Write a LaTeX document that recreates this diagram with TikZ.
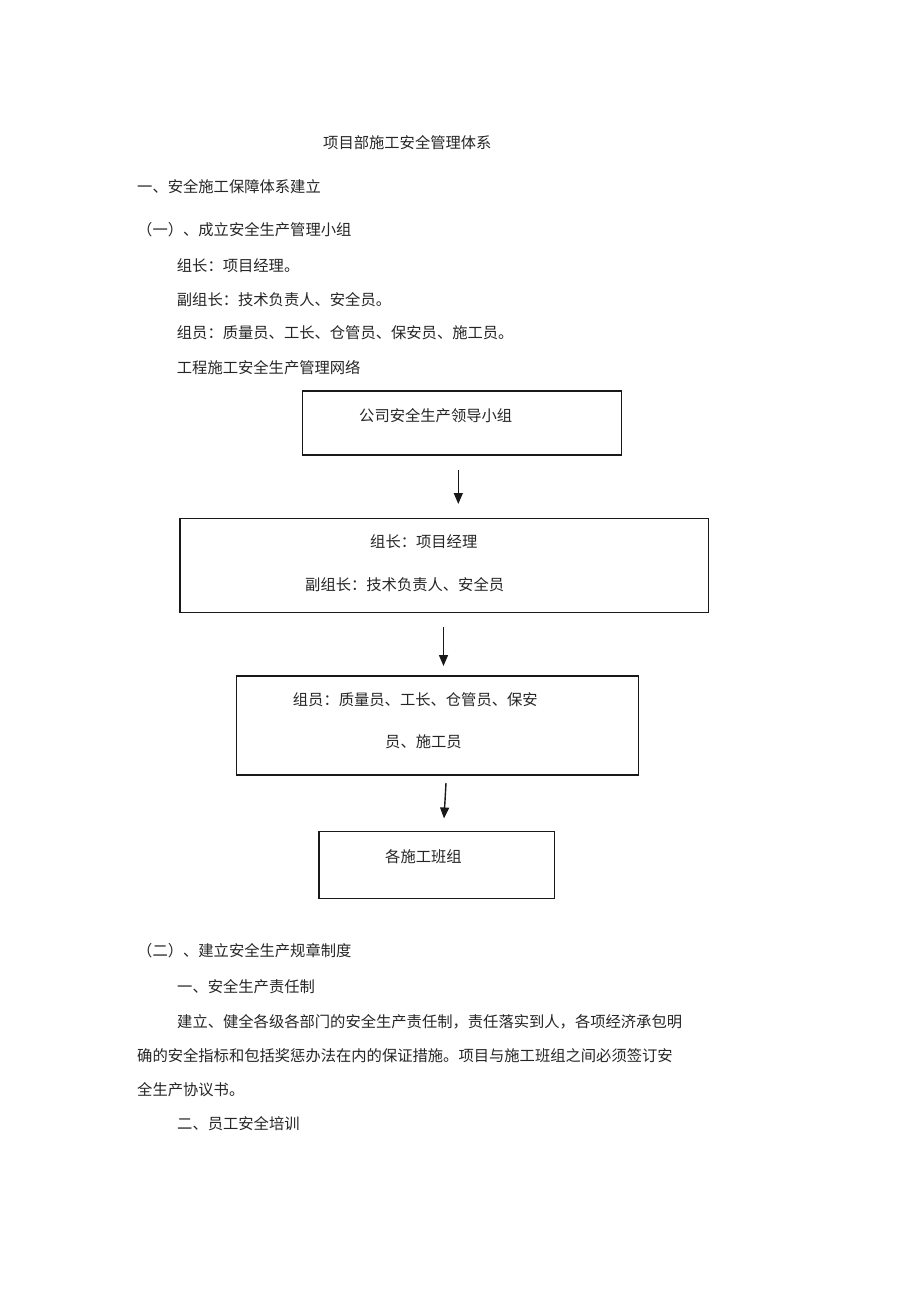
\documentclass[tikz,border=0pt]{standalone}
\usepackage{fontspec}
\setmainfont{Noto Sans CJK SC}
\usetikzlibrary{arrows.meta}
\begin{document}
\begin{tikzpicture}[x=1pt,y=-1pt,
  txt/.style={anchor=base west, inner sep=0pt, text=black!85, font=\fontsize{15.3pt}{18pt}\selectfont},
  box/.style={draw=black!90, line width=1.3pt, inner sep=0pt},
  arr/.style={draw=black!90, line width=1.4pt, -{Triangle[length=11pt,width=9pt]}}]
\fill[white] (0,0) rectangle (920,1303);
\useasboundingbox (0,0) rectangle (920,1303);

% headings and intro lines
\node[txt] (title) at (323,148.4) {项目部施工安全管理体系};
\node[txt] (s1) at (137,192.4) {一、安全施工保障体系建立};
\node[txt] (s1a) at (137,235.7) {（一）、成立安全生产管理小组};
\node[txt] (l1) at (176.7,271.4) {组长：项目经理。};
\node[txt] (l2) at (176.7,305.7) {副组长：技术负责人、安全员。};
\node[txt] (l3) at (176.7,338.7) {组员：质量员、工长、仓管员、保安员、施工员。};
\node[txt] (l4) at (176.7,373.7) {工程施工安全生产管理网络};

% boxes
\node[box, minimum width=319pt, minimum height=64pt] (b1) at (462.2,423) {};
\node[box, minimum width=528.3pt, minimum height=94.4pt] (b2) at (444.2,565.5) {};
\node[box, minimum width=401.6pt, minimum height=99pt] (b3) at (437.5,725.5) {};
\node[box, minimum width=235.3pt, minimum height=66.6pt] (b4) at (436.7,865) {};

% box texts
\node[txt] (b1t) at (359,421.4) {公司安全生产领导小组};
\node[txt] (b2t1) at (370,547.4) {组长：项目经理};
\node[txt] (b2t2) at (305,590.7) {副组长：技术负责人、安全员};
\node[txt] (b3t1) at (292.7,705.7) {组员：质量员、工长、仓管员、保安};
\node[txt] (b3t2) at (385,747.4) {员、施工员};
\node[txt] (b4t) at (385,862.4) {各施工班组};

% arrows
\coordinate (a1s) at (458.3,470);
\coordinate (a1e) at (458.3,504);
\coordinate (a2s) at (443.5,627);
\coordinate (a2e) at (443.5,666);
\coordinate (a3s) at (446,783);
\coordinate (a3e) at (444,818.5);
\draw[arr] (a1s) -- (a1e);
\draw[arr] (a2s) -- (a2e);
\draw[arr] (a3s) -- (a3e);

% lower section
\node[txt] (s2) at (137,956) {（二）、建立安全生产规章制度};
\node[txt] (p1) at (177,992.7) {一、安全生产责任制};
\node[txt] (q1) at (177,1027) {建立、健全各级各部门的安全生产责任制，责任落实到人，各项经济承包明};
\node[txt] (q2) at (137,1061.7) {确的安全指标和包括奖惩办法在内的保证措施。项目与施工班组之间必须签订安};
\node[txt] (q3) at (137,1095.7) {全生产协议书。};
\node[txt] (p2) at (177,1129.7) {二、员工安全培训};
\end{tikzpicture}
\end{document}
